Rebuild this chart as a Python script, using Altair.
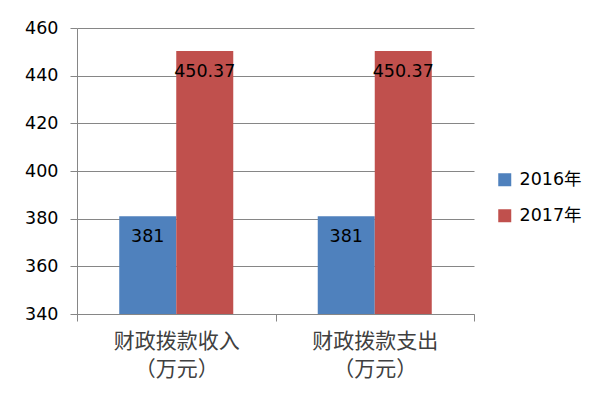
import altair as alt
import pandas as pd

categories = ["财政拨款收入|（万元）", "财政拨款支出|（万元）"]
years = ["2016年", "2017年"]
values_2016 = [381, 381]
values_2017 = [450.37, 450.37]
y_ticks = [340, 360, 380, 400, 420, 440, 460]
colors = ["#4F81BD", "#C0504D"]

rows = []
for i, c in enumerate(categories):
    rows.append({"cat": c, "year": years[0], "value": values_2016[i]})
    rows.append({"cat": c, "year": years[1], "value": values_2017[i]})
df = pd.DataFrame(rows)

GRAY = "#868686"

x = alt.X(
    "cat:N",
    sort=categories,
    scale=alt.Scale(paddingInner=0, paddingOuter=0),
    axis=alt.Axis(
        title=None,
        labelAngle=0,
        labelExpr="split(datum.label, '|')",
        tickBand="extent",
        tickSize=7,
        tickColor=GRAY,
        domainColor=GRAY,
        labelFont="Noto Sans CJK SC",
        labelFontSize=21,
        labelColor="#404040",
        labelLineHeight=28,
        labelPadding=9,
        grid=False,
    ),
)
xo = alt.XOffset("year:N", sort=years, scale=alt.Scale(paddingInner=0, paddingOuter=0.741))
y = alt.Y(
    "value:Q",
    scale=alt.Scale(domain=[340, 460], nice=False, zero=False),
    axis=alt.Axis(
        title=None,
        values=y_ticks,
        tickSize=7,
        tickColor=GRAY,
        domainColor=GRAY,
        gridColor=GRAY,
        grid=True,
        labelFont="DejaVu Sans",
        labelFontSize=17.5,
        labelColor="black",
        labelPadding=12,
    ),
)

bars = alt.Chart(df).mark_bar(opacity=1).encode(
    x=x,
    xOffset=xo,
    y=y,
    y2=alt.datum(340),
    color=alt.Color(
        "year:N",
        sort=years,
        scale=alt.Scale(domain=years, range=colors),
        legend=alt.Legend(
            title=None,
            orient="none",
            legendX=419,
            legendY=143,
            symbolType="square",
            symbolSize=169,
            symbolStrokeWidth=0,
            symbolOpacity=1,
            labelFont="DejaVu Sans, Noto Sans CJK SC",
            labelFontSize=17.5,
            labelColor="black",
            rowPadding=17,
            labelOffset=6,
        ),
    ),
)

texts = alt.Chart(df).mark_text(
    baseline="top", dy=12, fontSize=17.5, font="DejaVu Sans", color="black"
).encode(
    x=alt.X("cat:N", sort=categories),
    xOffset=alt.XOffset("year:N", sort=years),
    y=alt.Y("value:Q"),
    text=alt.Text("value:Q"),
)

chart = (
    alt.layer(bars, texts)
    .properties(
        width=397,
        height=286,
        autosize=alt.AutoSizeParams(type="none"),
        padding={"left": 77, "top": 28, "right": 117, "bottom": 80},
        background="white",
    )
    .configure_view(stroke=None)
)

chart.save("out.html", embed_options={"renderer": "svg", "actions": False})
